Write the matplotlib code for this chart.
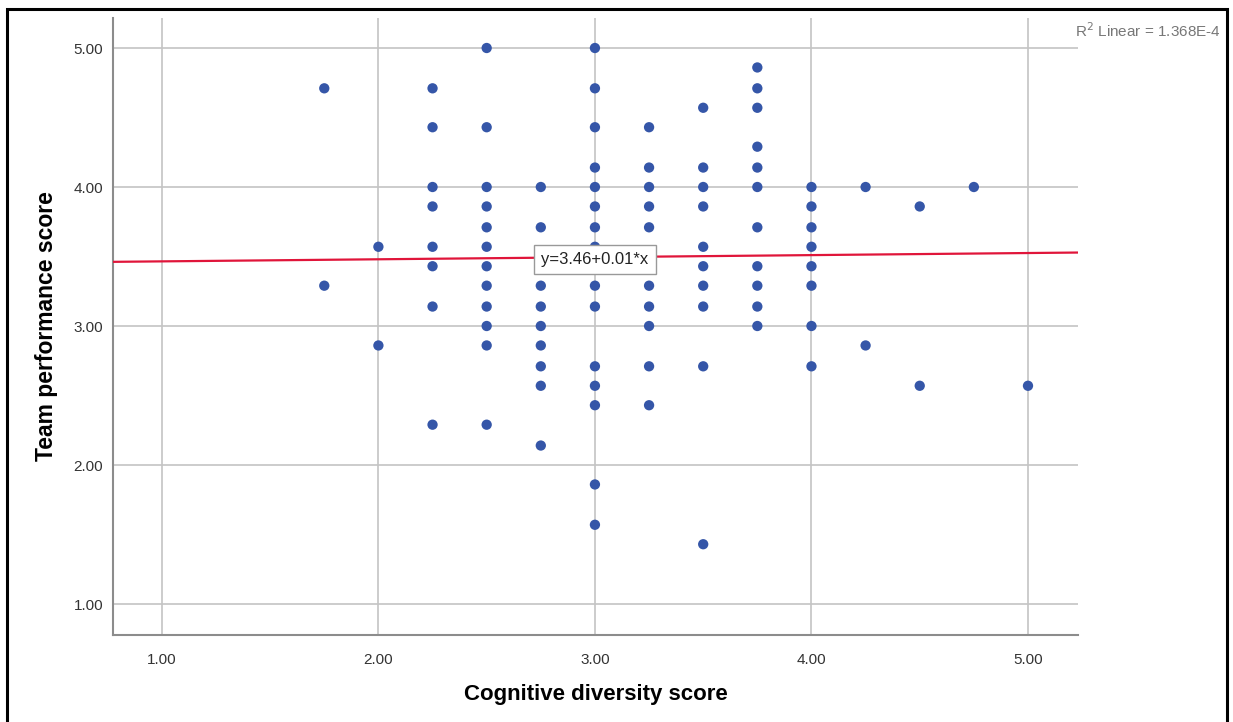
"""Scatter of team performance vs cognitive diversity (SPSS style)."""

import numpy as np
import matplotlib.pyplot as plt
from matplotlib.patches import Rectangle

plt.rcParams["font.family"] = ["Liberation Sans", "DejaVu Sans"]

# cognitive diversity score -> list of team performance scores seen at that x
x_levels = [1.75, 2.00, 2.25, 2.50, 2.75, 3.00, 3.25, 3.50, 3.75, 4.00, 4.25, 4.50, 4.75, 5.00]
y_groups = [
    [4.71, 3.29],
    [3.57, 2.86],
    [4.71, 4.43, 4.00, 3.86, 3.57, 3.43, 3.14, 2.29],
    [5.00, 4.43, 4.00, 3.86, 3.71, 3.57, 3.43, 3.29, 3.14, 3.00, 2.86, 2.29],
    [4.00, 3.71, 3.43, 3.29, 3.14, 3.00, 2.86, 2.71, 2.57, 2.14],
    [5.00, 4.71, 4.43, 4.14, 4.00, 3.86, 3.71, 3.57, 3.43, 3.29, 3.14, 2.71,
     2.57, 2.43, 1.86, 1.57],
    [4.43, 4.14, 4.00, 3.86, 3.71, 3.43, 3.29, 3.14, 3.00, 2.71, 2.43],
    [4.57, 4.14, 4.00, 3.86, 3.57, 3.43, 3.29, 3.14, 2.71, 1.43],
    [4.86, 4.71, 4.57, 4.29, 4.14, 4.00, 3.71, 3.43, 3.29, 3.14, 3.00],
    [4.00, 3.86, 3.71, 3.57, 3.43, 3.29, 3.00, 2.71],
    [4.00, 2.86],
    [3.86, 2.57],
    [4.00],
    [2.57],
]
fit_intercept = 3.45
fit_slope = 0.015
fit_label = "y=3.46+0.01*x"
r2_label = "R$^2$ Linear = 1.368E-4"
ticks = [1.0, 2.0, 3.0, 4.0, 5.0]

xs = np.concatenate([[x] * len(g) for x, g in zip(x_levels, y_groups)])
ys = np.concatenate(y_groups)

fig = plt.figure(figsize=(12.33, 7.22), dpi=100)
ax = fig.add_axes([0.0916, 0.1205, 0.7827, 0.8546])

xlim = (0.774, 5.231)
ylim = (0.777, 5.216)
ax.set_xlim(*xlim)
ax.set_ylim(*ylim)

ax.grid(True, color="#c4c4c4", linewidth=1.2)
ax.set_axisbelow(True)
for side in ("top", "right"):
    ax.spines[side].set_visible(False)
for side in ("left", "bottom"):
    ax.spines[side].set_color("#8c8c8c")
    ax.spines[side].set_linewidth(1.5)

ax.set_xticks(ticks)
ax.set_yticks(ticks)
ax.set_xticklabels([f"{t:.2f}" for t in ticks])
ax.set_yticklabels([f"{t:.2f}" for t in ticks])
ax.tick_params(axis="both", length=0, labelsize=11, colors="#333333")
ax.tick_params(axis="x", pad=13)
ax.tick_params(axis="y", pad=7)

ax.scatter(xs, ys, s=55, color="#3556a8", edgecolors="none", zorder=3)

fx = np.array(xlim)
ax.plot(fx, fit_intercept + fit_slope * fx, color="#e0153a", linewidth=1.6, zorder=4)

ax.text(3.0, 3.475, fit_label, ha="center", va="center", fontsize=12,
        color="#222222", zorder=5,
        bbox=dict(boxstyle="square,pad=0.42", facecolor="white",
                  edgecolor="#999999", linewidth=1))

ax.set_xlabel("Cognitive diversity score", fontsize=16, fontweight="bold",
              labelpad=12)
ax.set_ylabel("Team performance score", fontsize=16.5, fontweight="bold",
              labelpad=11)

fig.text(0.9905, 0.957, r2_label, ha="right", va="center", fontsize=11,
         color="#777777")

# outer frame around the whole picture
fig.patches.append(Rectangle((7 / 1233, -0.01), 1220 / 1233, 1 - 9 / 722 + 0.01,
                             transform=fig.transFigure, fill=False,
                             edgecolor="black", linewidth=2.2))

fig.savefig("out.png", dpi=100)
